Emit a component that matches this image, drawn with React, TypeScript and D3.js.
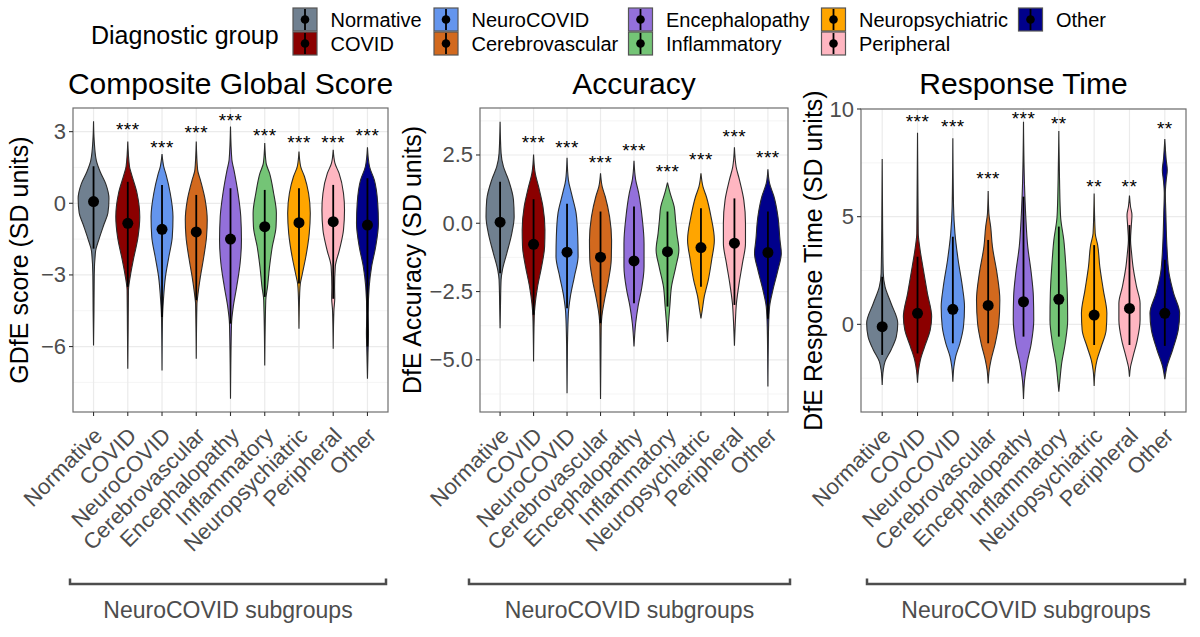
import * as d3 from "d3";

// diagnostic groups (x categories and legend entries)
const groups = [
  "Normative",
  "COVID",
  "NeuroCOVID",
  "Cerebrovascular",
  "Encephalopathy",
  "Inflammatory",
  "Neuropsychiatric",
  "Peripheral",
  "Other",
];
const groupColors = [
  "#708090",
  "#8B0000",
  "#6495ED",
  "#D2691E",
  "#9370DB",
  "#74C476",
  "#FFA500",
  "#FFB6C1",
  "#00008B",
];

// violin outlines: [value, half width as share of one category step]
const cgsViolins: [number, number][][] = [
  [[3.43, 0], [2.6, 0.02], [1.8, 0.08], [1.3, 0.2], [0.8, 0.36], [0.2, 0.45], [-0.4, 0.42], [-0.9, 0.3], [-1.5, 0.16], [-2.0, 0.06], [-3.0, 0.02], [-4.5, 0.012], [-5.95, 0]],
  [[2.59, 0], [1.54, 0.05], [1.26, 0.1], [0.42, 0.27], [-0.56, 0.35], [-1.4, 0.3], [-2.38, 0.16], [-3.08, 0.07], [-3.64, 0.02], [-5.3, 0.01], [-6.93, 0]],
  [[2.06, 0], [1.54, 0.05], [1.19, 0.12], [0.42, 0.24], [-0.56, 0.32], [-1.4, 0.3], [-2.24, 0.2], [-3.08, 0.1], [-4.06, 0.04], [-4.76, 0.015], [-7.0, 0]],
  [[2.59, 0], [1.4, 0.04], [0.98, 0.12], [0.14, 0.26], [-0.7, 0.32], [-1.4, 0.3], [-2.24, 0.22], [-3.08, 0.12], [-3.92, 0.04], [-4.2, 0.02], [-6.51, 0]],
  [[3.22, 0], [1.82, 0.04], [1.4, 0.1], [0.42, 0.22], [-0.56, 0.3], [-1.54, 0.32], [-2.52, 0.28], [-3.5, 0.18], [-4.34, 0.08], [-5.04, 0.03], [-8.19, 0]],
  [[2.52, 0], [1.68, 0.04], [1.26, 0.14], [0.42, 0.26], [-0.42, 0.34], [-0.98, 0.33], [-1.82, 0.22], [-2.66, 0.14], [-3.5, 0.08], [-4.06, 0.03], [-6.79, 0]],
  [[2.17, 0], [1.54, 0.05], [1.12, 0.16], [0.42, 0.28], [-0.42, 0.33], [-1.26, 0.3], [-2.24, 0.2], [-2.94, 0.1], [-3.36, 0.04], [-3.78, 0.02], [-5.25, 0]],
  [[2.24, 0], [1.68, 0.05], [1.26, 0.17], [0.42, 0.3], [-0.28, 0.33], [-1.12, 0.3], [-1.96, 0.18], [-2.66, 0.06], [-3.5, 0.04], [-4.0, 0.045], [-4.48, 0.02], [-6.09, 0]],
  [[2.35, 0], [1.54, 0.06], [0.98, 0.2], [0, 0.3], [-0.84, 0.32], [-1.82, 0.24], [-2.66, 0.12], [-3.5, 0.05], [-4.62, 0.02], [-5.46, 0.03], [-6.0, 0.02], [-7.35, 0]],
];
// [point, lower, upper]
const cgsStats: [number, number, number][] = [
  [0.07, -1.9, 1.55], [-0.84, -3.5, 0.9], [-1.09, -4.76, 0.77], [-1.2, -4.06, 0.35], [-1.5, -5.04, 0.63],
  [-0.98, -3.92, 0.56], [-0.81, -3.36, 0.63], [-0.77, -4.0, 0.77], [-0.91, -6.0, 1.05],
];
const cgsStars = ["", "***", "***", "***", "***", "***", "***", "***", "***"];
const cgsStarY = [0, 3.22, 2.49, 3.12, 3.61, 2.97, 2.7, 2.7, 2.97];

const accViolins: [number, number][][] = [
  [[3.72, 0], [2.56, 0.03], [2.07, 0.1], [1.59, 0.25], [0.85, 0.4], [0.24, 0.42], [-0.37, 0.35], [-1.1, 0.2], [-1.71, 0.07], [-2.07, 0.03], [-3.0, 0.012], [-3.84, 0]],
  [[2.52, 0], [1.83, 0.05], [1.34, 0.15], [0.61, 0.28], [-0.24, 0.34], [-0.85, 0.33], [-1.59, 0.24], [-2.32, 0.12], [-2.93, 0.05], [-3.41, 0.02], [-5.06, 0]],
  [[2.4, 0], [1.59, 0.04], [1.1, 0.13], [0.37, 0.27], [-0.49, 0.32], [-1.22, 0.33], [-1.95, 0.22], [-2.68, 0.1], [-3.29, 0.04], [-4.5, 0.012], [-6.22, 0]],
  [[1.83, 0], [1.34, 0.05], [0.98, 0.14], [0.24, 0.27], [-0.61, 0.33], [-1.34, 0.32], [-2.07, 0.24], [-2.8, 0.12], [-3.41, 0.04], [-3.78, 0.02], [-6.43, 0]],
  [[2.29, 0], [1.59, 0.05], [1.1, 0.14], [0.24, 0.24], [-0.73, 0.3], [-1.59, 0.3], [-2.44, 0.22], [-3.05, 0.12], [-3.66, 0.05], [-4.51, 0]],
  [[1.49, 0], [1.1, 0.08], [0.61, 0.2], [0.12, 0.24], [-0.37, 0.28], [-0.98, 0.34], [-1.59, 0.25], [-2.32, 0.12], [-3.05, 0.07], [-3.66, 0.03], [-4.35, 0]],
  [[1.83, 0], [1.34, 0.06], [0.98, 0.16], [0.24, 0.3], [-0.61, 0.4], [-1.34, 0.32], [-2.07, 0.22], [-2.68, 0.1], [-3.17, 0.04], [-3.48, 0]],
  [[2.78, 0], [2.07, 0.05], [1.59, 0.15], [0.85, 0.28], [0, 0.33], [-0.73, 0.33], [-1.46, 0.24], [-2.2, 0.14], [-2.93, 0.06], [-3.54, 0.03], [-4.48, 0]],
  [[1.98, 0], [1.46, 0.05], [0.98, 0.18], [0.24, 0.3], [-0.61, 0.36], [-1.1, 0.4], [-1.71, 0.3], [-2.44, 0.15], [-3.05, 0.05], [-3.78, 0.02], [-5.98, 0]],
];
const accStats: [number, number, number][] = [
  [0.04, -1.83, 1.52], [-0.77, -3.35, 0.88], [-1.06, -3.11, 0.71], [-1.24, -3.66, 0.43], [-1.38, -2.93, 0.61],
  [-1.04, -3.05, 0.43], [-0.89, -2.32, 0.55], [-0.73, -2.99, 0.91], [-1.07, -3.5, 0.43],
];
const accStars = ["", "***", "***", "***", "***", "***", "***", "***", "***"];
const accStarY = [0, 3.1, 2.9, 2.35, 2.78, 2.01, 2.46, 3.29, 2.54];

const rtViolins: [number, number][][] = [
  [[7.68, 0], [4.5, 0.012], [2.37, 0.03], [1.75, 0.08], [0.98, 0.25], [0.05, 0.44], [-0.57, 0.4], [-1.19, 0.25], [-1.73, 0.08], [-2.12, 0.03], [-2.82, 0]],
  [[8.9, 0], [6.0, 0.012], [4.23, 0.02], [3.61, 0.06], [2.68, 0.15], [1.44, 0.28], [0.36, 0.4], [-0.26, 0.36], [-1.04, 0.2], [-1.66, 0.08], [-2.12, 0.03], [-2.71, 0]],
  [[8.64, 0], [5.46, 0.02], [4.23, 0.06], [2.99, 0.15], [1.75, 0.27], [0.82, 0.33], [-0.11, 0.3], [-0.88, 0.2], [-1.5, 0.08], [-1.97, 0.03], [-2.66, 0]],
  [[6.19, 0], [5.15, 0.02], [4.54, 0.07], [3.61, 0.12], [2.37, 0.25], [1.13, 0.33], [0.05, 0.3], [-0.88, 0.2], [-1.66, 0.08], [-2.12, 0.03], [-2.74, 0]],
  [[9.41, 0], [6.39, 0.03], [5.15, 0.06], [3.61, 0.12], [2.37, 0.22], [1.28, 0.28], [0.2, 0.29], [-0.88, 0.22], [-1.81, 0.1], [-2.59, 0.03], [-3.47, 0]],
  [[8.98, 0], [6.7, 0.02], [5.0, 0.05], [3.92, 0.14], [2.68, 0.2], [1.44, 0.24], [0.2, 0.25], [-0.88, 0.18], [-1.81, 0.08], [-2.59, 0.03], [-3.13, 0]],
  [[6.08, 0], [4.23, 0.03], [3.68, 0.1], [2.68, 0.16], [1.59, 0.26], [0.51, 0.36], [-0.26, 0.34], [-1.04, 0.2], [-1.66, 0.08], [-2.12, 0.03], [-2.86, 0]],
  [[5.98, 0], [5.46, 0.03], [5.08, 0.07], [4.54, 0.05], [3.92, 0.03], [3.3, 0.06], [2.68, 0.1], [1.75, 0.2], [0.98, 0.3], [0.2, 0.3], [-0.73, 0.22], [-1.5, 0.1], [-1.97, 0.03], [-2.43, 0]],
  [[8.61, 0], [7.63, 0.04], [7.17, 0.07], [6.7, 0.04], [6.08, 0.015], [5.15, 0.03], [3.61, 0.06], [2.37, 0.12], [1.44, 0.25], [0.51, 0.42], [-0.26, 0.38], [-1.19, 0.22], [-1.97, 0.06], [-2.55, 0]],
];
const rtStats: [number, number, number][] = [
  [-0.11, -1.42, 2.21], [0.51, -1.35, 3.14], [0.7, -0.88, 4.07], [0.88, -0.88, 3.92], [1.05, -0.57, 5.93],
  [1.16, -0.57, 4.54], [0.43, -0.96, 3.68], [0.74, -0.96, 4.61], [0.51, -1.0, 3.0],
];
const rtStars = ["", "***", "***", "***", "***", "**", "**", "**", "**"];
const rtStarY = [0, 9.57, 9.33, 6.93, 9.72, 9.49, 6.58, 6.58, 9.26];

const cgsTicks = [-6, -3, 0, 3];
const accTicks = [-5, -2.5, 0, 2.5];
const rtTicks = [0, 5, 10];

const FONT = "'Liberation Sans', Arial, Helvetica, sans-serif";
const minus = (s: string) => s.replace("-", "\u2212");

const panels = [
  {
    title: "Composite Global Score", yLabel: "GDfE score (SD units)",
    x0: 73, x1: 388, y0: 108, y1: 412, domain: [-8.74, 3.99], ticks: cgsTicks, fmt: d3.format("d"),
    violins: cgsViolins, stats: cgsStats, stars: cgsStars, starY: cgsStarY,
    yLabelX: 28, bracket: [70, 386],
  },
  {
    title: "Accuracy", yLabel: "DfE Accuracy (SD units)",
    x0: 480, x1: 788, y0: 108, y1: 412, domain: [-6.91, 4.22], ticks: accTicks, fmt: d3.format(".1f"),
    violins: accViolins, stats: accStats, stars: accStars, starY: accStarY,
    yLabelX: 421, bracket: [469, 790],
  },
  {
    title: "Response Time", yLabel: "DfE Response Time (SD units)",
    x0: 861, x1: 1186, y0: 109, y1: 412, domain: [-4.07, 10], ticks: rtTicks, fmt: d3.format("d"),
    violins: rtViolins, stats: rtStats, stars: rtStars, starY: rtStarY,
    yLabelX: 822, bracket: [867, 1185],
  },
];

const legendCols = [293, 434, 628.5, 821.5, 1018.5];

function Panel({ p }: { p: (typeof panels)[number] }) {
  const x = d3.scalePoint<string>().domain(groups).range([p.x0, p.x1]).padding(0.6);
  const step = x.step();
  const y = d3.scaleLinear().domain(p.domain).range([p.y1, p.y0]);
  const t = p.ticks;
  const tStep = t[1] - t[0];
  const minor = d3.range(t[0] - tStep / 2, t[t.length - 1] + tStep, tStep).filter((v) => v > p.domain[0] && v < p.domain[1]);
  const cx = (p.x0 + p.x1) / 2;
  const cy = (p.y0 + p.y1) / 2;

  return (
    <g>
      <text x={cx} y={94} textAnchor="middle" fontSize={30} fill="#000">{p.title}</text>
      <rect x={p.x0} y={p.y0} width={p.x1 - p.x0} height={p.y1 - p.y0} fill="#fff" />
      {minor.map((v) => (
        <line key={"mn" + v} x1={p.x0} x2={p.x1} y1={y(v)} y2={y(v)} stroke="#F0F0F0" strokeWidth={0.7} />
      ))}
      {t.map((v) => (
        <line key={"mj" + v} x1={p.x0} x2={p.x1} y1={y(v)} y2={y(v)} stroke="#EBEBEB" strokeWidth={1.2} />
      ))}
      {groups.map((g) => (
        <line key={"vg" + g} x1={x(g)} x2={x(g)} y1={p.y0} y2={p.y1} stroke="#EBEBEB" strokeWidth={1.2} />
      ))}
      {groups.map((g, i) => {
        const xc = x(g) as number;
        const area = d3
          .area<[number, number]>()
          .y((d) => y(d[0]))
          .x0((d) => xc - d[1] * step)
          .x1((d) => xc + d[1] * step)
          .curve(d3.curveMonotoneY);
        const [m, lo, hi] = p.stats[i];
        return (
          <g key={g}>
            <path d={area(p.violins[i]) || ""} fill={groupColors[i]} stroke="#2B2B2B" strokeWidth={1.1} />
            <line x1={xc} x2={xc} y1={y(lo)} y2={y(hi)} stroke="#000" strokeWidth={1.8} />
            <circle cx={xc} cy={y(m)} r={5.5} fill="#000" />
            {p.stars[i] && (
              <text x={xc} y={y(p.starY[i]) + 10} textAnchor="middle" fontSize={19} letterSpacing={0.5} fill="#000">
                {p.stars[i]}
              </text>
            )}
          </g>
        );
      })}
      <rect x={p.x0} y={p.y0} width={p.x1 - p.x0} height={p.y1 - p.y0} fill="none" stroke="#6E6E6E" strokeWidth={1.2} />
      {t.map((v) => (
        <g key={"yt" + v}>
          <line x1={p.x0 - 4} x2={p.x0} y1={y(v)} y2={y(v)} stroke="#333" strokeWidth={1.1} />
          <text x={p.x0 - 7} y={y(v) + 7.5} textAnchor="end" fontSize={22} fill="#4D4D4D">{minus(p.fmt(v))}</text>
        </g>
      ))}
      {groups.map((g) => (
        <g key={"xt" + g}>
          <line x1={x(g)} x2={x(g)} y1={p.y1} y2={p.y1 + 4} stroke="#333" strokeWidth={1.1} />
          <text
            transform={`translate(${(x(g) as number) + 10},${p.y1 + 25}) rotate(-45)`}
            textAnchor="end" fontSize={22} fill="#4D4D4D"
          >
            {g}
          </text>
        </g>
      ))}
      <text transform={`translate(${p.yLabelX},${cy}) rotate(-90)`} textAnchor="middle" fontSize={25} fill="#000">
        {p.yLabel}
      </text>
      <path
        d={`M${p.bracket[0]},578.5V584H${p.bracket[1]}V578.5`}
        fill="none" stroke="#4D4D4D" strokeWidth={2.5}
      />
      <text x={(p.bracket[0] + p.bracket[1]) / 2} y={618} textAnchor="middle" fontSize={23} fill="#4D4D4D">
        NeuroCOVID subgroups
      </text>
    </g>
  );
}

export default function App() {
  return (
    <div style={{ position: "fixed", left: 0, top: 0 }}>
      <svg width={1200} height={637} style={{ display: "block", fontFamily: FONT }}>
        <rect width={1200} height={637} fill="#fff" />
        <text x={91} y={43.5} fontSize={25} fill="#000">Diagnostic group</text>
        {groups.map((g, i) => {
          const col = Math.floor(i / 2);
          const row = i % 2;
          const kx = legendCols[col];
          const ky = row === 0 ? 8 : 32;
          return (
            <g key={"lg" + g}>
              <rect x={kx} y={ky} width={24} height={23} fill={groupColors[i]} stroke="#555" strokeWidth={1.2} />
              <line x1={kx + 12} x2={kx + 12} y1={ky + 1} y2={ky + 22} stroke="#000" strokeWidth={1.8} />
              <circle cx={kx + 12} cy={ky + 11.5} r={4.3} fill="#000" />
              <text x={kx + 37.5} y={row === 0 ? 26.7 : 51} fontSize={20} fill="#000">{g}</text>
            </g>
          );
        })}
        {panels.map((p) => (
          <Panel key={p.title} p={p} />
        ))}
      </svg>
    </div>
  );
}
